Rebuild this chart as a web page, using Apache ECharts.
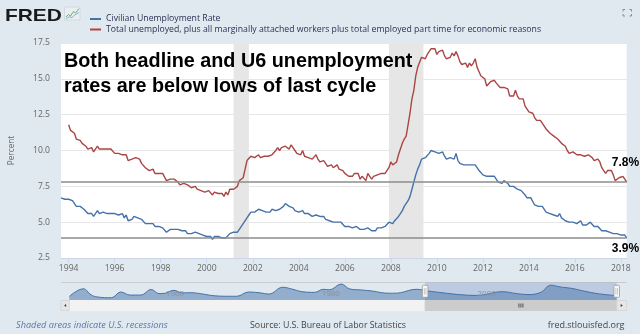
<!DOCTYPE html>
<html><head><meta charset="utf-8">
<script src="https://cdn.jsdelivr.net/npm/echarts@6/dist/echarts.min.js"></script>
<style>html,body{margin:0;padding:0;background:#e1e9f0;}#c{width:640px;height:334px;}</style>
</head><body><div id="c"></div>
<script>
// ---------------- data ----------------
const seriesNames = ['Civilian Unemployment Rate',
  'Total unemployed, plus all marginally attached workers plus total employed part time for economic reasons'];
const unrateStart = [1993, 9];   // first month of the headline series
const unrate = [
  6.7, 6.8, 6.6, 6.5,
  6.6, 6.6, 6.5, 6.4, 6.1, 6.1, 6.1, 6.0, 5.9, 5.8, 5.6, 5.5,
  5.6, 5.4, 5.4, 5.8, 5.6, 5.6, 5.7, 5.7, 5.6, 5.5, 5.6, 5.6,
  5.6, 5.5, 5.5, 5.6, 5.6, 5.3, 5.5, 5.1, 5.2, 5.2, 5.4, 5.4,
  5.3, 5.2, 5.2, 5.1, 4.9, 5.0, 4.9, 4.8, 4.9, 4.7, 4.6, 4.7,
  4.6, 4.6, 4.7, 4.3, 4.4, 4.5, 4.5, 4.5, 4.6, 4.5, 4.4, 4.4,
  4.3, 4.4, 4.2, 4.3, 4.2, 4.3, 4.3, 4.2, 4.2, 4.1, 4.1, 4.0,
  4.0, 4.1, 4.0, 3.8, 4.0, 4.0, 4.0, 4.1, 3.9, 3.9, 3.9, 3.9,
  4.2, 4.2, 4.3, 4.4, 4.3, 4.5, 4.6, 4.9, 5.0, 5.3, 5.5, 5.7,
  5.7, 5.7, 5.7, 5.9, 5.8, 5.8, 5.8, 5.7, 5.7, 5.7, 5.9, 6.0,
  5.8, 5.9, 5.9, 6.0, 6.1, 6.3, 6.2, 6.1, 6.1, 6.0, 5.8, 5.7,
  5.7, 5.6, 5.8, 5.6, 5.6, 5.6, 5.5, 5.4, 5.4, 5.5, 5.4, 5.4,
  5.3, 5.4, 5.2, 5.2, 5.1, 5.0, 5.0, 4.9, 5.0, 5.0, 5.0, 4.9,
  4.7, 4.8, 4.7, 4.7, 4.6, 4.6, 4.7, 4.7, 4.5, 4.4, 4.5, 4.4,
  4.6, 4.5, 4.4, 4.5, 4.4, 4.6, 4.7, 4.6, 4.7, 4.7, 4.7, 5.0,
  5.0, 4.9, 5.1, 5.0, 5.4, 5.6, 5.8, 6.1, 6.1, 6.5, 6.8, 7.3,
  7.8, 8.3, 8.7, 9.0, 9.4, 9.5, 9.5, 9.6, 9.8, 10.0, 9.9, 9.9,
  9.8, 9.8, 9.9, 9.9, 9.6, 9.4, 9.4, 9.5, 9.5, 9.4, 9.8, 9.3,
  9.1, 9.0, 9.0, 9.1, 9.0, 9.1, 9.0, 9.0, 9.0, 8.8, 8.6, 8.5,
  8.3, 8.3, 8.2, 8.2, 8.2, 8.2, 8.2, 8.1, 7.8, 7.8, 7.7, 7.9,
  8.0, 7.7, 7.5, 7.6, 7.5, 7.5, 7.3, 7.2, 7.2, 7.2, 6.9, 6.7,
  6.6, 6.7, 6.7, 6.2, 6.3, 6.1, 6.2, 6.1, 5.9, 5.7, 5.8, 5.6,
  5.7, 5.5, 5.4, 5.4, 5.6, 5.3, 5.2, 5.1, 5.0, 5.0, 5.1, 5.0,
  4.9, 4.9, 5.0, 5.1, 4.8, 4.9, 4.8, 4.9, 5.0, 4.9, 4.7, 4.7,
  4.7, 4.6, 4.4, 4.4, 4.4, 4.3, 4.3, 4.4, 4.2, 4.1, 4.2, 4.1,
  4.1, 4.1, 4.1, 3.9
];
const u6Start = [1994, 1];
const u6 = [
  11.8, 11.4, 11.4, 11.2, 10.8, 10.9, 10.7, 10.5, 10.4, 10.3, 10.1, 10.0,
  10.2, 9.9, 9.9, 10.3, 10.1, 10.2, 10.1, 10.0, 10.1, 10.0, 10.1, 10.0,
  9.8, 9.8, 9.8, 9.9, 9.7, 9.6, 9.7, 9.3, 9.4, 9.4, 9.3, 9.5,
  9.4, 9.4, 9.1, 9.2, 8.8, 8.9, 8.6, 8.7, 8.7, 8.4, 8.3, 8.4,
  8.4, 8.4, 8.4, 7.9, 7.9, 8.0, 8.1, 8.0, 7.9, 7.8, 7.6, 7.6,
  7.7, 7.7, 7.6, 7.6, 7.4, 7.5, 7.5, 7.3, 7.4, 7.2, 7.1, 7.1,
  7.1, 7.2, 7.1, 6.9, 7.1, 7.0, 7.0, 7.1, 7.0, 6.8, 7.1, 6.9,
  7.3, 7.4, 7.3, 7.4, 7.5, 7.9, 7.9, 8.1, 8.7, 9.3, 9.4, 9.6,
  9.5, 9.5, 9.4, 9.7, 9.5, 9.5, 9.6, 9.6, 9.6, 9.6, 9.7, 9.8,
  10.0, 10.2, 10.0, 10.2, 10.1, 10.3, 10.3, 10.1, 10.4, 10.2, 10.0, 9.8,
  9.9, 9.7, 10.0, 9.6, 9.6, 9.5, 9.5, 9.4, 9.4, 9.7, 9.4, 9.2,
  9.3, 9.3, 9.1, 8.9, 8.9, 9.0, 8.8, 8.9, 9.0, 8.7, 8.7, 8.6,
  8.4, 8.4, 8.2, 8.1, 8.2, 8.4, 8.5, 8.4, 8.0, 8.2, 8.1, 7.9,
  8.4, 8.2, 8.0, 8.2, 8.2, 8.3, 8.4, 8.4, 8.4, 8.4, 8.4, 8.8,
  9.2, 9.0, 9.1, 9.2, 9.7, 10.1, 10.5, 10.8, 11.0, 11.8, 12.6, 13.6,
  14.2, 15.2, 15.8, 15.9, 16.5, 16.5, 16.4, 16.7, 16.7, 17.1, 17.1, 17.1,
  16.7, 16.9, 16.9, 17.0, 16.6, 16.4, 16.4, 16.5, 16.8, 16.6, 16.9, 16.6,
  16.2, 16.0, 15.9, 16.1, 15.8, 16.1, 15.9, 16.1, 16.4, 15.8, 15.5, 15.2,
  15.2, 15.0, 14.5, 14.6, 14.8, 14.8, 14.9, 14.7, 14.8, 14.4, 14.4, 14.4,
  14.5, 14.3, 13.8, 13.9, 13.8, 14.2, 13.8, 13.6, 13.5, 13.6, 13.1, 13.1,
  12.7, 12.6, 12.6, 12.3, 12.1, 12.0, 12.1, 12.0, 11.7, 11.5, 11.4, 11.2,
  11.2, 11.0, 10.9, 10.8, 10.7, 10.5, 10.4, 10.3, 10.0, 9.8, 9.9, 9.9,
  9.9, 9.7, 9.8, 9.7, 9.7, 9.6, 9.7, 9.7, 9.7, 9.5, 9.3, 9.2,
  9.4, 9.2, 8.8, 8.6, 8.4, 8.6, 8.6, 8.6, 8.3, 7.9, 8.0, 8.1,
  8.2, 8.2, 8.0, 7.8
];
const recessions = [[2001.167, 2001.833], [2007.917, 2009.417]];
const refLevels = [7.8, 3.9];
const refLabels = ['7.8%', '3.9%'];
const xTicks = [1994, 1996, 1998, 2000, 2002, 2004, 2006, 2008, 2010, 2012, 2014, 2016, 2018];
const yRange = [2.5, 17.5];
const yStep = 2.5;
const windowRange = [1993.667, 2018.25];
// navigator overview (headline rate, long history)
const navYears = [1948.0, 1949.8, 1950.8, 1951.6, 1953.4, 1954.6, 1955.8, 1957.2, 1958.5, 1959.5,
  1960.2, 1961.4, 1962.5, 1963.6, 1965.0, 1966.6, 1968.6, 1969.5, 1971.0, 1972.5, 1973.6,
  1975.4, 1976.6, 1978.0, 1979.5, 1980.6, 1981.4, 1982.9, 1984.0, 1985.5, 1987.0, 1988.5,
  1989.5, 1990.5, 1992.5, 1994.0, 1996.0, 1998.0, 2000.3, 2001.5, 2003.5, 2005.5, 2007.0,
  2008.5, 2009.8, 2011.0, 2012.5, 2014.0, 2016.0, 2018.25];
const navValues = [3.4, 7.9, 4.3, 3.1, 2.6, 6.0, 4.2, 4.2, 7.5, 5.1,
  5.2, 7.0, 5.5, 5.6, 4.9, 3.8, 3.5, 3.5, 6.0, 5.5, 4.8,
  8.8, 7.7, 6.1, 5.8, 7.6, 7.3, 10.7, 7.8, 7.2, 6.5, 5.4,
  5.3, 5.6, 7.6, 6.6, 5.5, 4.5, 4.0, 4.6, 6.2, 5.0, 4.5,
  5.8, 10.0, 9.0, 8.1, 6.6, 4.9, 3.9];
const navTicks = [1960, 1980, 2000];
const navYRange = [1.3, 11.6];
const annotation = ['Both headline and U6 unemployment', 'rates are below lows of last cycle'];
const footer = ['Shaded areas indicate U.S. recessions', 'Source: U.S. Bureau of Labor Statistics', 'fred.stlouisfed.org'];

// ---------------- build ----------------
function monthly(start, values) {
  return values.map((v, i) => [start[0] + (start[1] - 1 + i) / 12, v]);
}
const UI = '"Open Sans", "DejaVu Sans", sans-serif';
const chart = echarts.init(document.getElementById('c'), null, {renderer: 'canvas'});

const option = {
  backgroundColor: '#e1e9f0',
  animation: false,
  textStyle: {fontFamily: UI},
  legend: {
    orient: 'vertical', left: 85, top: 9.5, itemGap: 1.5,
    itemWidth: 11, itemHeight: 2, icon: 'rect', selectedMode: false,
    data: seriesNames,
    textStyle: {fontSize: 8.7, color: '#2a3152', fontFamily: UI}
  },
  grid: [
    {left: 60, top: 43, width: 566.7, height: 215, show: true, backgroundColor: '#ffffff', borderWidth: 0},
    {left: 69.3, top: 282.5, width: 547.4, height: 17.5, show: false}
  ],
  xAxis: [
    {type: 'value', gridIndex: 0, min: windowRange[0], max: windowRange[1],
      axisLine: {show: true, lineStyle: {color: '#ccd6eb'}},
      axisTick: {show: true, customValues: xTicks, length: 5, lineStyle: {color: '#ccd6eb'}},
      axisLabel: {customValues: xTicks, formatter: v => String(Math.round(v)), color: '#666', fontSize: 8.6, margin: 6},
      splitLine: {show: false}},
    {type: 'value', gridIndex: 1, min: navYears[0], max: windowRange[1], z: 10,
      axisLine: {show: false}, axisTick: {show: false}, splitLine: {show: false},
      axisLabel: {customValues: navTicks, inside: true, align: 'left', margin: 2.5, padding: [0, 0, 0, 3],
        formatter: v => String(Math.round(v)), color: '#8a919c', fontSize: 8}}
  ],
  yAxis: [
    {type: 'value', gridIndex: 0, min: yRange[0], max: yRange[1], interval: yStep,
      axisLine: {show: false}, axisTick: {show: false},
      axisLabel: {formatter: v => v.toFixed(1), color: '#666', fontSize: 8.6, margin: 11},
      splitLine: {lineStyle: {color: '#e6e6e6', width: 1}},
      name: 'Percent', nameLocation: 'middle', nameRotate: 90, nameGap: 45,
      nameTextStyle: {color: '#666', fontSize: 8.2}},
    {type: 'value', gridIndex: 1, min: navYRange[0], max: navYRange[1], show: false}
  ],
  series: [
    {type: 'line', xAxisIndex: 0, yAxisIndex: 0, data: [], silent: true,
      markArea: {silent: true, itemStyle: {color: '#e6e6e6'},
        data: recessions.map(r => [{xAxis: r[0]}, {xAxis: r[1]}])},
      markLine: {silent: true, symbol: 'none', label: {show: false},
        lineStyle: {color: '#8c8c8c', width: 1.5, type: 'solid'},
        data: refLevels.map(v => ({yAxis: v}))}},
    {name: seriesNames[0], type: 'line', xAxisIndex: 0, yAxisIndex: 0, data: monthly(unrateStart, unrate),
      symbol: 'none', color: '#4572a7', lineStyle: {width: 1.4, color: '#4572a7'}},
    {name: seriesNames[1], type: 'line', xAxisIndex: 0, yAxisIndex: 0, data: monthly(u6Start, u6),
      symbol: 'none', color: '#aa4643', lineStyle: {width: 1.4, color: '#aa4643'}},
    {type: 'line', xAxisIndex: 1, yAxisIndex: 1, silent: true, z: 1,
      data: navYears.map((y, i) => [y, navValues[i]]),
      smooth: 0.4, symbol: 'none',
      lineStyle: {color: '#4572a7', width: 1},
      areaStyle: {color: '#4572a7', opacity: 0.5, origin: 'start'},
      markArea: {silent: true, itemStyle: {color: 'rgba(102,133,194,0.3)'},
        data: [[{xAxis: windowRange[0]}, {xAxis: windowRange[1]}]]}}
  ]
};
chart.setOption(option);

// ---------------- overlays derived from axes ----------------
const p0 = (x, y) => chart.convertToPixel({gridIndex: 0}, [x, y]);
const p1 = (x, y) => chart.convertToPixel({gridIndex: 1}, [x, y]);
const plotL = p0(windowRange[0], yRange[0])[0];
const plotR = p0(windowRange[1], yRange[0])[0];
const navL = p1(navYears[0], navYRange[0])[0];
const navR = p1(windowRange[1], navYRange[0])[0];
const navT = p1(navYears[0], navYRange[1])[1];
const navB = p1(navYears[0], navYRange[0])[1];
const winL = p1(windowRange[0], navYRange[0])[0];
const winR = p1(windowRange[1], navYRange[0])[0];
const g = [];
// FRED logo
g.push({type: 'text', left: 5, top: 7.5, scaleX: 1.23, style: {text: 'FRED', font: '900 17px "Liberation Sans", Arial, sans-serif', fill: '#1a1a1a'}});
g.push({type: 'rect', shape: {x: 64.5, y: 7, width: 15.5, height: 13}, style: {fill: '#e9eef2', stroke: '#c3cfd8', lineWidth: 0.6}});
g.push({type: 'polyline', shape: {points: [[66, 17], [68.5, 14.5], [70.5, 16], [73.5, 11.5], [75.5, 13], [79, 8.5]]}, style: {stroke: '#78ad62', lineWidth: 1, fill: null}});
g.push({type: 'polyline', shape: {points: [[66, 18.7], [69, 16.8], [72, 17.6], [75, 14.8], [79, 12.5]]}, style: {stroke: '#8db1d8', lineWidth: 1, fill: null}});
// fullscreen icon
[[[623, 11.5], [623, 9.5], [625, 9.5]], [[629.5, 9.5], [631.5, 9.5], [631.5, 11.5]],
 [[623, 14], [623, 16], [625, 16]], [[629.5, 16], [631.5, 16], [631.5, 14]]].forEach(pts =>
  g.push({type: 'polyline', shape: {points: pts}, style: {stroke: '#8a8a8a', lineWidth: 1, fill: null}}));
// annotation
g.push({type: 'text', x: plotL + 3, y: 61.8, z: 20, style: {text: annotation[0], font: 'bold 19.8px "Liberation Sans", Arial, sans-serif', fill: '#000', verticalAlign: 'middle'}});
g.push({type: 'text', x: plotL + 3, y: 86.2, z: 20, style: {text: annotation[1], font: 'bold 19.8px "Liberation Sans", Arial, sans-serif', fill: '#000', verticalAlign: 'middle'}});
// level labels
const y78 = p0(windowRange[1], refLevels[0])[1];
const y39 = p0(windowRange[1], refLevels[1])[1];
g.push({type: 'text', x: plotR + 12.5, y: y78 - 19.5, z: 20, style: {text: refLabels[0], font: 'bold 12px "Liberation Sans", Arial, sans-serif', fill: '#000', align: 'right', verticalAlign: 'middle'}});
g.push({type: 'text', x: plotR + 12.5, y: y39 + 11, z: 20, style: {text: refLabels[1], font: 'bold 12px "Liberation Sans", Arial, sans-serif', fill: '#000', align: 'right', verticalAlign: 'middle'}});
// navigator outline & handles
g.push({type: 'line', shape: {x1: plotL, y1: navT, x2: plotR, y2: navT}, style: {stroke: '#cccccc', lineWidth: 1}});
[winL, winR].forEach(x => {
  g.push({type: 'rect', z: 30, shape: {x: x - 2.8, y: navT + 2.8, width: 5.6, height: 12, r: 1}, style: {fill: '#f7f7f7', stroke: '#999', lineWidth: 0.8}});
  g.push({type: 'line', z: 31, shape: {x1: x - 0.8, y1: navT + 5.5, x2: x - 0.8, y2: navT + 12}, style: {stroke: '#aaa', lineWidth: 0.6}});
  g.push({type: 'line', z: 31, shape: {x1: x + 0.8, y1: navT + 5.5, x2: x + 0.8, y2: navT + 12}, style: {stroke: '#aaa', lineWidth: 0.6}});
});
// scrollbar
const sbT = navB + 0.5, sbH = 10;
g.push({type: 'rect', shape: {x: navL, y: sbT, width: navR - navL, height: sbH}, style: {fill: '#f2f2f2', stroke: '#f2f2f2'}});
g.push({type: 'rect', shape: {x: winL, y: sbT, width: winR - winL, height: sbH}, style: {fill: '#cccccc', stroke: '#cccccc'}});
g.push({type: 'rect', shape: {x: plotL, y: sbT, width: navL - plotL, height: sbH}, style: {fill: '#e6e6e6', stroke: '#cccccc', lineWidth: 0.6}});
g.push({type: 'rect', shape: {x: navR, y: sbT, width: plotR - navR, height: sbH}, style: {fill: '#e6e6e6', stroke: '#cccccc', lineWidth: 0.6}});
const lm = (plotL + navL) / 2, rm = (navR + plotR) / 2, sm = sbT + sbH / 2;
g.push({type: 'polygon', shape: {points: [[lm + 1, sm - 1.6], [lm + 1, sm + 1.6], [lm - 1, sm]]}, style: {fill: '#333'}});
g.push({type: 'polygon', shape: {points: [[rm - 1, sm - 1.6], [rm - 1, sm + 1.6], [rm + 1, sm]]}, style: {fill: '#333'}});
const cm = (winL + winR) / 2;
[-2, 0, 2].forEach(d => g.push({type: 'line', shape: {x1: cm + d, y1: sm - 2, x2: cm + d, y2: sm + 2}, style: {stroke: '#333', lineWidth: 0.8}}));
// footer
g.push({type: 'text', x: 16, y: 325.5, style: {text: footer[0], font: 'italic 9.2px "Open Sans", sans-serif', fill: '#5a78a8', verticalAlign: 'middle'}});
g.push({type: 'text', x: 328, y: 325.5, style: {text: footer[1], font: '8.8px "Open Sans", sans-serif', fill: '#444', align: 'center', verticalAlign: 'middle'}});
g.push({type: 'text', x: 624.5, y: 325.5, style: {text: footer[2], font: '9px "Open Sans", sans-serif', fill: '#444', align: 'right', verticalAlign: 'middle'}});
chart.setOption({graphic: g});
</script>
</body></html>
